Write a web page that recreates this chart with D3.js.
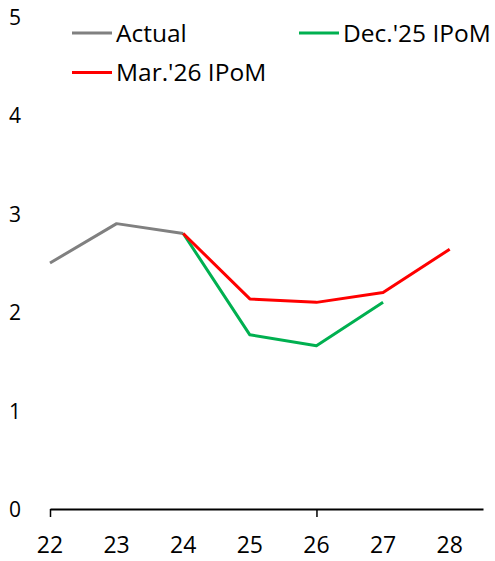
<!DOCTYPE html>
<html>
<head>
<meta charset="utf-8">
<script src="https://cdn.jsdelivr.net/npm/d3@7"></script>
<style>
  body { margin: 0; background: #fff; }
  text { font-family: "Open Sans", "Noto Sans", sans-serif; fill: #000; }
</style>
</head>
<body>
<div id="chart"></div>
<script>
// chart size
const width = 495;
const height = 561;
const margin = {left: 50, right: 12, top: 17, bottom: 52};

// data
const years = [22, 23, 24, 25, 26, 27, 28];
const actual = [2.5, 2.9, 2.8, null, null, null, null];
const dec25 = [null, null, 2.8, 1.77, 1.66, 2.1, null];
const mar26 = [null, null, 2.8, 2.135, 2.1, 2.2, 2.64];
const yTicks = [0, 1, 2, 3, 4, 5];
const seriesNames = ["Actual", "Dec.'25 IPoM", "Mar.'26 IPoM"];
const colors = ["#808080", "#00B050", "#FF0000"];

const svg = d3.select("#chart")
  .append("svg")
  .attr("width", width)
  .attr("height", height);

// x from 22 to 28.5 so the axis runs past the last point
const x = d3.scaleLinear()
  .domain([22, 28.5])
  .range([margin.left, width - margin.right]);

const y = d3.scaleLinear()
  .domain([0, 5])
  .range([height - margin.bottom, margin.top]);

// y labels, no axis line
svg.append("g")
  .selectAll("text")
  .data(yTicks)
  .join("text")
    .attr("x", 9)
    .attr("y", d => y(d) + 8)
    .attr("font-size", "21px")
    .text(d => d);

// x axis
const xAxis = svg.append("g")
  .attr("transform", `translate(0,${y(0)})`)
  .call(d3.axisBottom(x).tickValues([22, 26]).tickSize(8).tickSizeOuter(0).tickFormat(""));
xAxis.select(".domain").attr("stroke", "#000").attr("stroke-width", 2);
xAxis.selectAll(".tick line").attr("stroke", "#000").attr("stroke-width", 1.5)
  .attr("y1", 0).attr("y2", 8);

svg.append("g")
  .selectAll("text")
  .data(years)
  .join("text")
    .attr("x", d => x(d))
    .attr("y", y(0) + 44)
    .attr("text-anchor", "middle")
    .attr("font-size", "23px")
    .text(d => d);

// lines
const line = d3.line()
  .defined(d => d.v != null)
  .x(d => x(d.year))
  .y(d => y(d.v));

[actual, dec25, mar26].forEach((s, i) => {
  svg.append("path")
    .datum(years.map((yr, j) => ({year: yr, v: s[j]})))
    .attr("fill", "none")
    .attr("stroke", colors[i])
    .attr("stroke-width", 3)
    .attr("stroke-linejoin", "round")
    .attr("d", line);
});

// legend
const legendPos = [[72, 33], [299, 33], [72, 72.5]];
seriesNames.forEach((name, i) => {
  const [lx, ly] = legendPos[i];
  svg.append("line")
    .attr("x1", lx).attr("x2", lx + 40)
    .attr("y1", ly).attr("y2", ly)
    .attr("stroke", colors[i])
    .attr("stroke-width", 3);
  svg.append("text")
    .attr("x", lx + 44)
    .attr("y", ly + 8.5)
    .attr("font-size", "24.5px")
    .text(name);
});
</script>
</body>
</html>
